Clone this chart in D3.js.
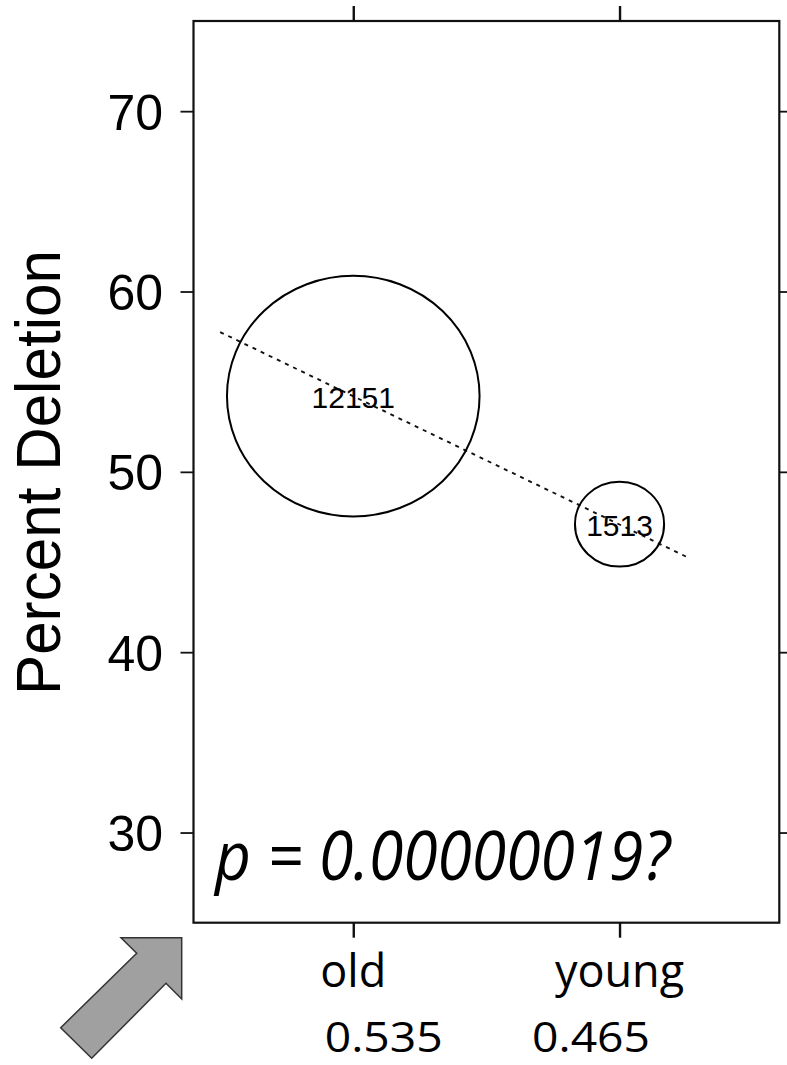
<!DOCTYPE html>
<html>
<head>
<meta charset="utf-8">
<script src="https://d3js.org/d3.v7.min.js"></script>
<style>
  body { margin: 0; background: #fff; }
  svg { display: block; }
</style>
</head>
<body>
<svg id="chart" width="787" height="1065"></svg>
<script>
// data
const groups = ["old", "young"];
const pctDeletion = [54.2, 47.1];
const counts = [12151, 1513];
const proportions = ["0.535", "0.465"];
const yTicks = [30, 40, 50, 60, 70];
const trendX = [0.5, 2.25];
const trendY = [57.75, 45.3];
const pLabel = "p = 0.00000019?";

const svg = d3.select("#chart");
const plotL = 193.5, plotR = 779.3, plotT = 21, plotB = 922.7;
const ink = "#111";

const x = d3.scaleLinear().domain([0.4, 2.6]).range([plotL, plotR]);
const y = d3.scaleLinear().domain([25, 75]).range([plotB, plotT]);
const rx = d3.scaleSqrt().domain([0, 12151]).range([0, 126.3]);
const ry = d3.scaleSqrt().domain([0, 12151]).range([0, 120.3]);

const groupPos = groups.map((g, i) => i + 1);

// axes: left with labels, the other three sides only ticks
const yAxisL = svg.append("g").attr("transform", `translate(${plotL},0)`)
    .call(d3.axisLeft(y).tickValues(yTicks).tickSize(13).tickSizeOuter(0).tickFormat(d => d));
yAxisL.select(".domain").remove();
yAxisL.selectAll("line").attr("stroke", ink).attr("stroke-width", 1.8);
yAxisL.selectAll("text")
    .attr("x", -30.5)
    .attr("dy", "0.36em")
    .style("font-family", "Liberation Sans, Arial, sans-serif")
    .style("font-size", "50px")
    .attr("fill", "#000");

const yAxisR = svg.append("g").attr("transform", `translate(${plotR},0)`)
    .call(d3.axisRight(y).tickValues(yTicks).tickSize(12).tickFormat(""));
yAxisR.select(".domain").remove();
yAxisR.selectAll("line").attr("stroke", ink).attr("stroke-width", 1.8);

const xAxisT = svg.append("g").attr("transform", `translate(0,${plotT})`)
    .call(d3.axisTop(x).tickValues(groupPos).tickSize(15).tickFormat(""));
xAxisT.select(".domain").remove();
xAxisT.selectAll("line").attr("stroke", ink).attr("stroke-width", 2.4);

const xAxisB = svg.append("g").attr("transform", `translate(0,${plotB})`)
    .call(d3.axisBottom(x).tickValues(groupPos).tickSize(15).tickFormat(""));
xAxisB.select(".domain").remove();
xAxisB.selectAll("line").attr("stroke", ink).attr("stroke-width", 2.4);

// frame
svg.append("rect")
    .attr("x", plotL).attr("y", plotT)
    .attr("width", plotR - plotL).attr("height", plotB - plotT)
    .attr("fill", "none").attr("stroke", ink).attr("stroke-width", 2.2);

// trend line
svg.append("line")
    .attr("x1", x(trendX[0])).attr("y1", y(trendY[0]))
    .attr("x2", x(trendX[1])).attr("y2", y(trendY[1]))
    .attr("stroke", "#111").attr("stroke-width", 1.9)
    .attr("stroke-dasharray", "4,5");

// bubbles
const bub = svg.append("g").selectAll("g").data(groups).join("g");
bub.append("ellipse")
    .attr("cx", (d, i) => x(groupPos[i]))
    .attr("cy", (d, i) => y(pctDeletion[i]))
    .attr("rx", (d, i) => rx(counts[i]))
    .attr("ry", (d, i) => ry(counts[i]))
    .attr("fill", "none").attr("stroke", "#000").attr("stroke-width", 2);
bub.append("text")
    .attr("x", (d, i) => x(groupPos[i]))
    .attr("y", (d, i) => y(pctDeletion[i]))
    .attr("dy", "0.38em")
    .attr("text-anchor", "middle")
    .style("font-family", "Liberation Sans, Arial, sans-serif")
    .style("font-size", "30px")
    .attr("fill", "#000")
    .text((d, i) => counts[i]);

// p value annotation
svg.append("text")
    .attr("x", 215).attr("y", 880)
    .attr("textLength", 455).attr("lengthAdjust", "spacingAndGlyphs")
    .style("font-family", "Open Sans, sans-serif")
    .style("font-style", "italic")
    .style("font-size", "67px")
    .attr("fill", "#000")
    .text(pLabel);

// y label
svg.append("text")
    .attr("transform", `translate(60,472.5) rotate(-90)`)
    .attr("text-anchor", "middle")
    .attr("textLength", 445).attr("lengthAdjust", "spacingAndGlyphs")
    .style("font-family", "Liberation Sans, Arial, sans-serif")
    .style("font-size", "63px")
    .attr("fill", "#000")
    .text("Percent Deletion");

// group names
svg.append("g").selectAll("text").data(groups).join("text")
    .attr("x", (d, i) => x(groupPos[i]))
    .attr("y", 987)
    .attr("text-anchor", "middle")
    .style("font-family", "Open Sans, sans-serif")
    .style("font-size", "45px")
    .attr("fill", "#000")
    .text(d => d);

// proportions, pulled toward the middle
svg.append("g").selectAll("text").data(proportions).join("text")
    .attr("x", (d, i) => x(groupPos[i]) + (i === 0 ? 30.5 : -28.5))
    .attr("y", 1052)
    .attr("text-anchor", "middle")
    .attr("textLength", 118).attr("lengthAdjust", "spacingAndGlyphs")
    .style("font-family", "Open Sans, sans-serif")
    .style("font-size", "42px")
    .attr("fill", "#000")
    .text(d => d);

// grey arrow pointing at the plot corner
const arrowPts = [[181.7, 937.7], [181.7, 999], [166, 983.3], [91.7, 1058.3],
                  [60.7, 1027.7], [136.7, 953.3], [121, 937.7]];
svg.append("path")
    .attr("d", d3.line()(arrowPts) + "Z")
    .attr("fill", "#a0a0a0")
    .attr("stroke", "#333")
    .attr("stroke-width", 1.5)
    .attr("stroke-linejoin", "miter");
</script>
</body>
</html>
